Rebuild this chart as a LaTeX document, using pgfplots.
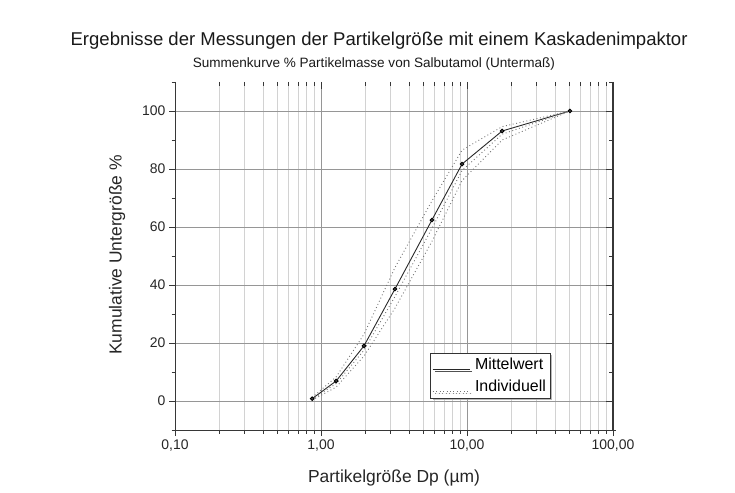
\documentclass[border=0pt]{standalone}
\usepackage{fontspec}
\setmainfont{Liberation Sans}
\usepackage{pgfplots}
\pgfplotsset{compat=1.18}
\usetikzlibrary{shadows}
\definecolor{majgrid}{RGB}{150,150,150}
\definecolor{mingrid}{RGB}{210,210,210}
\definecolor{axdark}{RGB}{55,55,55}
\definecolor{meanc}{RGB}{40,40,40}
\definecolor{indc}{RGB}{115,115,115}
\begin{document}
\begin{tikzpicture}
\path[use as bounding box] (0,0) rectangle (735bp,493bp);
\begin{axis}[
  at={(175bp,63bp)}, anchor=south west, scale only axis,
  width=438bp, height=348bp,
  xmode=log, log basis x=10, xmin=0.1, xmax=100, ymin=-10, ymax=110,
  xtick={0.1,1,10,100}, xticklabels={{0,10},{1,00},{10,00},{100,00}},
  minor xtick={0.2,0.3,0.4,0.5,0.6,0.7,0.8,0.9,2,3,4,5,6,7,8,9,20,30,40,50,60,70,80,90},
  ytick={0,20,40,60,80,100}, minor ytick={-10,10,30,50,70,90,110},
  xtick pos=left, ytick pos=left, tick align=outside,
  major tick length=6bp, minor tick length=3.5bp,
  every tick/.style={axdark, line width=0.8pt},
  axis line style={draw=none},
  xmajorgrids, xminorgrids, ymajorgrids, yminorgrids=false,
  major grid style={majgrid, line width=0.9pt},
  minor x grid style={mingrid, line width=0.8pt},
  /pgf/number format/assume math mode=true,
  tick label style={font=\fontsize{14}{16}\selectfont, text=black!85},
  xlabel={Partikelgröße Dp (µm)}, ylabel={Kumulative Untergröße \%},
  every axis x label/.style={at={(axis description cs:0.5,-0.138)}, anchor=center, font=\fontsize{17.5}{20}\selectfont, text=black!85},
  every axis y label/.style={at={(axis description cs:-0.132,0.503)}, anchor=center, rotate=90, font=\fontsize{17.5}{20}\selectfont, text=black!85},
  legend style={at={(0.582,0.092)}, anchor=south west, draw=black!80, fill=white,
    font=\fontsize{16}{18}\selectfont, inner xsep=2bp, inner ysep=3bp, row sep=5bp,
    drop shadow={shadow xshift=2.5bp, shadow yshift=-2.5bp, fill=gray!70, opacity=0.8},
    legend cell align=left},
  legend image code/.code={\draw[#1] (0bp,-5bp) -- (37bp,-5bp);},
  clip=false,
]
\draw[axdark, line width=1pt] (rel axis cs:0,0) -- (rel axis cs:0,1);
\draw[axdark, line width=1pt] (rel axis cs:-0.004,0) -- (rel axis cs:1.006,0);
\draw[axdark, line width=1.2pt] (rel axis cs:1,0) -- (rel axis cs:1,1);
\addplot[meanc, line width=0.9pt, mark=*, mark size=1.8pt, mark options={fill=gray!60!black, draw=black}]
  coordinates {(0.87,0.8) (1.27,6.9) (1.97,19.0) (3.21,38.6) (5.75,62.4) (9.25,81.7) (17.4,93.1) (50.7,100)};
\addlegendentry{\hspace{3bp}Mittelwert}
\addplot[indc, line width=0.9pt, dash pattern=on 0.9pt off 2.6pt]
  coordinates {(0.87,1.2) (1.27,8.3) (1.97,23.0) (3.21,46.0) (5.75,69.0) (9.25,86.5) (17.4,94.6) (50.7,100)};
\addlegendentry{\hspace{3bp}Individuell}
\addplot[indc, line width=0.9pt, dash pattern=on 0.9pt off 2.6pt, forget plot]
  coordinates {(0.87,0.3) (1.27,4.8) (1.97,15.5) (3.21,32.0) (5.75,55.0) (9.25,76.0) (17.4,90.0) (50.7,100)};
\addplot[indc, line width=0.9pt, dash pattern=on 0.9pt off 2.6pt, forget plot]
  coordinates {(0.87,0.6) (1.27,6.0) (1.97,17.5) (3.21,36.0) (5.75,59.5) (9.25,79.5) (17.4,92.0) (50.7,100)};
\node[font=\fontsize{18.6}{21}\selectfont, text=black!90] at (axis description cs:0.466,1.118) {Ergebnisse der Messungen der Partikelgröße mit einem Kaskadenimpaktor};
\node[font=\fontsize{13.6}{15}\selectfont, text=black!90] at (axis description cs:0.454,1.052) {Summenkurve \% Partikelmasse von Salbutamol (Untermaß)};
\end{axis}
\begin{axis}[
  at={(175bp,63bp)}, anchor=south west, scale only axis,
  width=438bp, height=348bp,
  xmode=log, log basis x=10, xmin=0.1, xmax=100, ymin=-10, ymax=110,
  xtick={0.1,1,10,100}, ytick={0,20,40,60,80,100}, minor ytick={-10,10,30,50,70,90,110},
  minor xtick={0.2,0.3,0.4,0.5,0.6,0.7,0.8,0.9,2,3,4,5,6,7,8,9,20,30,40,50,60,70,80,90},
  xticklabels={}, yticklabels={},
  xtick pos=right, ytick pos=right, tick align=inside,
  major tick length=7bp, minor tick length=4bp,
  every tick/.style={axdark, line width=0.8pt},
  axis line style={draw=none},
]
\end{axis}
\end{tikzpicture}
\end{document}
